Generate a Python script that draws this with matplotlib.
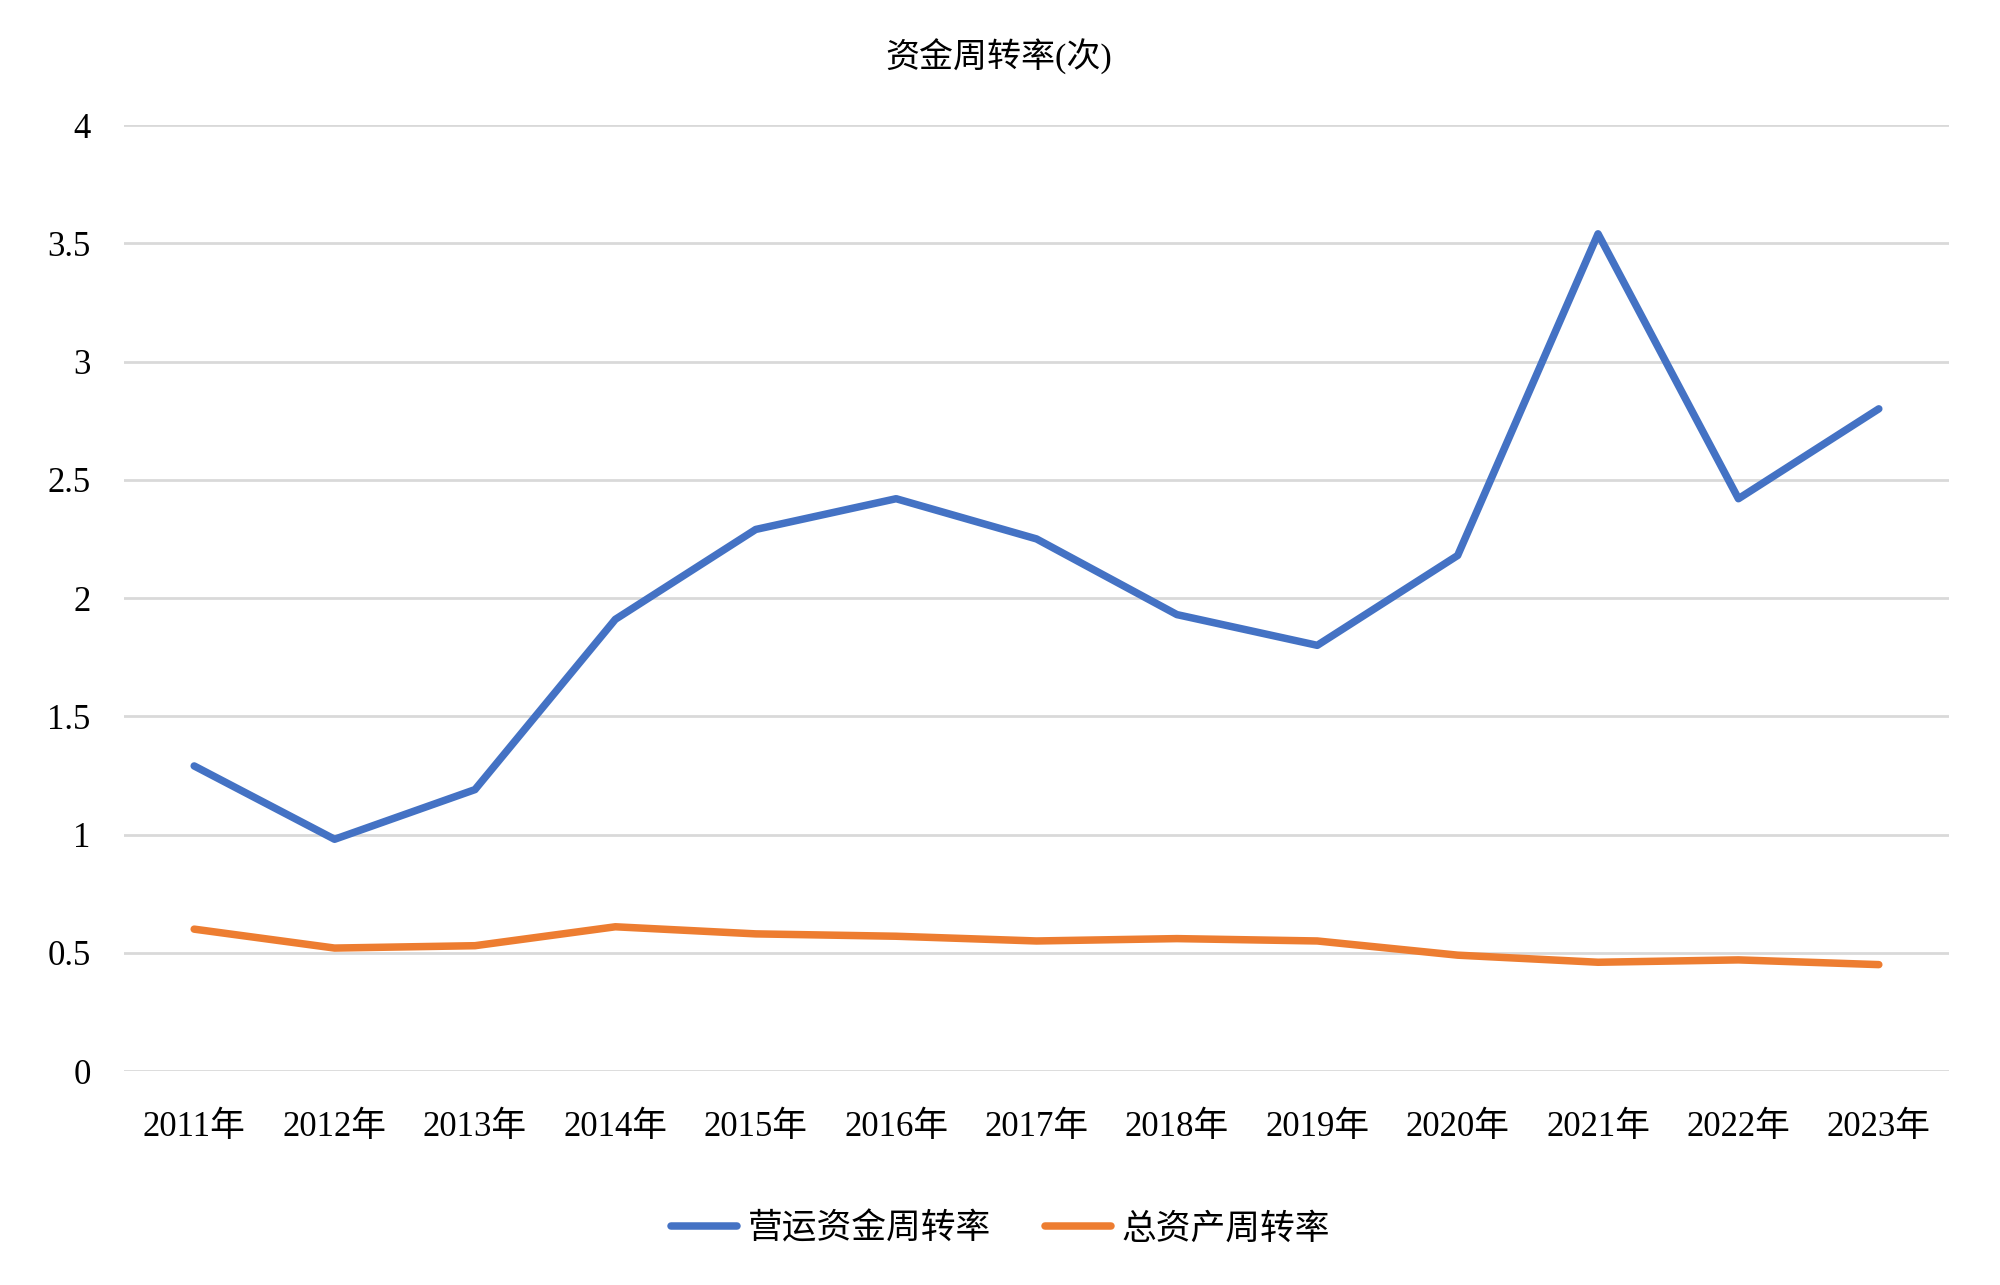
"""资金周转率(次) 折线图 —— 营运资金周转率 与 总资产周转率, 2011-2023."""

import matplotlib
matplotlib.use('Agg')
import matplotlib.pyplot as plt

plt.rcParams['font.family'] = ['Liberation Serif', 'Noto Sans CJK SC', 'DejaVu Sans']

# 数据
years = ['2011年', '2012年', '2013年', '2014年', '2015年', '2016年', '2017年',
         '2018年', '2019年', '2020年', '2021年', '2022年', '2023年']
working_capital_turnover = [1.29, 0.98, 1.19, 1.91, 2.29, 2.42, 2.25,
                            1.93, 1.80, 2.18, 3.54, 2.42, 2.80]
total_asset_turnover = [0.60, 0.52, 0.53, 0.61, 0.58, 0.57, 0.55,
                        0.56, 0.55, 0.49, 0.46, 0.47, 0.45]
y_ticks = [0, 0.5, 1, 1.5, 2, 2.5, 3, 3.5, 4]
y_labels = ['0', '0.5', '1', '1.5', '2', '2.5', '3', '3.5', '4']


def main():
    fig = plt.figure(figsize=(20, 12.85), dpi=100)
    ax = fig.add_axes([0.062, 0.1665, 0.9125, 0.7362])
    x = list(range(len(years)))

    ax.plot(x, working_capital_turnover, color='#4472C4', lw=5.4,
            solid_capstyle='round', solid_joinstyle='round', label='营运资金周转率', zorder=3)
    ax.plot(x, total_asset_turnover, color='#ED7D31', lw=5.4,
            solid_capstyle='round', solid_joinstyle='round', label='总资产周转率', zorder=3)

    ax.set_xlim(-0.5, len(years) - 0.5)
    ax.set_ylim(0, 4)
    ax.set_yticks(y_ticks)
    ax.set_yticklabels(y_labels)
    ax.set_xticks(x)
    ax.set_xticklabels(years)
    ax.yaxis.grid(True, color='#D9D9D9', lw=2.0)
    ax.set_axisbelow(True)
    for s in ax.spines.values():
        s.set_visible(False)
    ax.tick_params(axis='both', length=0, labelsize=25, colors='black')
    ax.tick_params(axis='y', pad=24)
    ax.tick_params(axis='x', pad=29)

    fig.text(0.4995, 0.956, '资金周转率(次)', ha='center', va='center', fontsize=24.5)

    fig.legend(loc='center', bbox_to_anchor=(0.5002, 0.043), ncol=2, frameon=False,
               fontsize=25, handlelength=1.9, columnspacing=1.55, handletextpad=0.3)

    fig.savefig('out.png', facecolor='white')
    plt.close(fig)


if __name__ == "__main__":
    main()
